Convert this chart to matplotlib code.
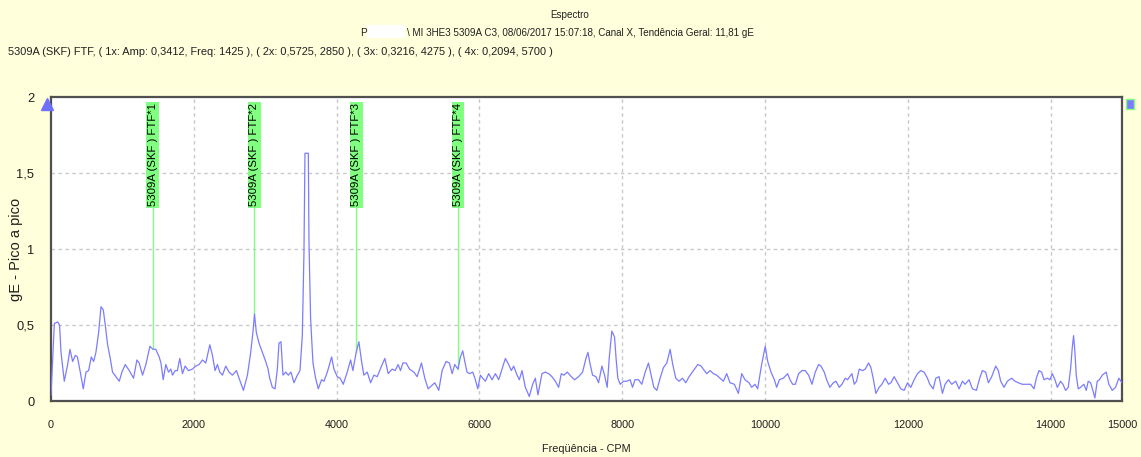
import matplotlib
matplotlib.use("Agg")
import matplotlib.pyplot as plt
from matplotlib.patches import Rectangle

plt.rcParams['font.family'] = ['Liberation Sans', 'DejaVu Sans']

# Envelope spectrum (CPM, gE peak-to-peak)
freq = [0, 47, 93, 120, 140, 186, 233, 266, 303, 340, 370, 410, 452, 490, 527, 564,
        597, 629, 667, 700, 732, 760, 793, 830, 862, 909, 956, 993, 1040, 1096, 1156,
        1203, 1235, 1282, 1329, 1385, 1425, 1468, 1515, 1540, 1571, 1608, 1646, 1678,
        1702, 1739, 1770, 1804, 1841, 1879, 1925, 1981, 2028, 2075, 2121, 2168, 2224,
        2261, 2298, 2331, 2364, 2401, 2448, 2494, 2541, 2597, 2634, 2695, 2751, 2797,
        2830, 2850, 2876, 2914, 2960, 3007, 3040, 3063, 3100, 3138, 3170, 3193, 3221,
        3249, 3287, 3324, 3361, 3403, 3450, 3487, 3520, 3543, 3557, 3604, 3613, 3636,
        3669, 3706, 3743, 3790, 3823, 3870, 3930, 3963, 4009, 4050, 4093, 4149, 4196,
        4228, 4275, 4312, 4350, 4382, 4429, 4476, 4522, 4569, 4629, 4676, 4722, 4778,
        4820, 4862, 4895, 4928, 4974, 5021, 5082, 5128, 5189, 5235, 5282, 5329, 5375,
        5431, 5478, 5534, 5580, 5618, 5655, 5700, 5734, 5767, 5795, 5827, 5860, 5907,
        5944, 5977, 6014, 6046, 6084, 6130, 6177, 6224, 6270, 6317, 6364, 6410, 6448,
        6480, 6527, 6559, 6597, 6643, 6699, 6746, 6783, 6820, 6876, 6923, 6970, 7016,
        7063, 7110, 7147, 7184, 7231, 7287, 7333, 7389, 7445, 7492, 7520, 7552, 7585,
        7632, 7669, 7716, 7753, 7790, 7818, 7855, 7893, 7916, 7939, 7972, 8019, 8065,
        8112, 8144, 8180, 8228, 8275, 8322, 8368, 8405, 8443, 8485, 8531, 8578, 8625,
        8671, 8708, 8750, 8797, 8844, 8890, 8937, 8998, 9058, 9105, 9151, 9184, 9231,
        9277, 9324, 9371, 9417, 9464, 9510, 9571, 9627, 9674, 9720, 9776, 9813, 9860,
        9897, 9953, 10003, 10038, 10084, 10131, 10163, 10201, 10257, 10317, 10350,
        10387, 10425, 10471, 10518, 10564, 10611, 10658, 10704, 10751, 10783, 10830,
        10863, 10909, 10956, 10993, 11040, 11077, 11124, 11157, 11217, 11250, 11282,
        11320, 11366, 11404, 11450, 11483, 11515, 11553, 11599, 11637, 11683, 11730,
        11763, 11809, 11856, 11902, 11949, 11996, 12042, 12089, 12135, 12182, 12229,
        12275, 12308, 12355, 12392, 12438, 12485, 12522, 12569, 12615, 12671, 12718,
        12765, 12802, 12858, 12905, 12961, 13007, 13044, 13091, 13128, 13175, 13231,
        13268, 13301, 13348, 13394, 13455, 13501, 13548, 13604, 13674, 13720, 13767,
        13800, 13837, 13874, 13907, 13954, 13990, 14024, 14061, 14094, 14140, 14173,
        14210, 14247, 14280, 14303, 14322, 14341, 14359, 14387, 14420, 14466, 14499,
        14527, 14560, 14592, 14620, 14653, 14685, 14723, 14779, 14816, 14863, 14909,
        14956, 15000]
amp = [0.04, 0.51, 0.52, 0.50, 0.32, 0.13, 0.24, 0.34, 0.26, 0.30, 0.29, 0.19, 0.08,
       0.19, 0.20, 0.29, 0.26, 0.32, 0.45, 0.62, 0.60, 0.50, 0.37, 0.28, 0.19, 0.16,
       0.13, 0.19, 0.24, 0.20, 0.15, 0.27, 0.25, 0.17, 0.24, 0.36, 0.3412, 0.34, 0.29,
       0.25, 0.14, 0.24, 0.19, 0.21, 0.17, 0.20, 0.20, 0.28, 0.18, 0.23, 0.20, 0.21,
       0.23, 0.24, 0.27, 0.25, 0.37, 0.30, 0.20, 0.24, 0.19, 0.17, 0.23, 0.19, 0.17,
       0.20, 0.15, 0.07, 0.17, 0.32, 0.46, 0.5725, 0.45, 0.38, 0.32, 0.26, 0.21, 0.15,
       0.09, 0.08, 0.21, 0.38, 0.39, 0.17, 0.19, 0.17, 0.19, 0.12, 0.17, 0.20, 0.43,
       0.98, 1.63, 1.63, 1.05, 0.54, 0.25, 0.15, 0.08, 0.14, 0.13, 0.19, 0.29, 0.21,
       0.16, 0.15, 0.11, 0.19, 0.27, 0.20, 0.3216, 0.39, 0.26, 0.17, 0.19, 0.12, 0.17,
       0.16, 0.23, 0.28, 0.18, 0.21, 0.20, 0.24, 0.20, 0.25, 0.25, 0.21, 0.19, 0.16,
       0.25, 0.15, 0.08, 0.10, 0.12, 0.07, 0.20, 0.26, 0.25, 0.18, 0.24, 0.2094, 0.29,
       0.33, 0.26, 0.19, 0.18, 0.19, 0.14, 0.08, 0.17, 0.15, 0.13, 0.18, 0.14, 0.18,
       0.14, 0.21, 0.28, 0.24, 0.20, 0.23, 0.17, 0.14, 0.20, 0.09, 0.03, 0.11, 0.15,
       0.04, 0.18, 0.19, 0.18, 0.16, 0.13, 0.09, 0.18, 0.17, 0.19, 0.16, 0.14, 0.16,
       0.19, 0.28, 0.32, 0.24, 0.17, 0.16, 0.12, 0.23, 0.17, 0.09, 0.28, 0.46, 0.42,
       0.27, 0.15, 0.11, 0.13, 0.13, 0.14, 0.09, 0.14, 0.14, 0.11, 0.19, 0.25, 0.17,
       0.09, 0.07, 0.15, 0.22, 0.25, 0.34, 0.24, 0.15, 0.13, 0.15, 0.12, 0.16, 0.20,
       0.24, 0.23, 0.20, 0.18, 0.20, 0.18, 0.17, 0.15, 0.13, 0.18, 0.12, 0.11, 0.05,
       0.18, 0.14, 0.12, 0.09, 0.11, 0.08, 0.24, 0.36, 0.26, 0.19, 0.14, 0.09, 0.14,
       0.15, 0.18, 0.14, 0.11, 0.11, 0.18, 0.20, 0.20, 0.17, 0.11, 0.19, 0.24, 0.23,
       0.19, 0.14, 0.09, 0.12, 0.13, 0.09, 0.11, 0.15, 0.14, 0.18, 0.11, 0.13, 0.21,
       0.20, 0.21, 0.25, 0.22, 0.15, 0.05, 0.09, 0.11, 0.15, 0.11, 0.12, 0.16, 0.12,
       0.08, 0.07, 0.12, 0.09, 0.14, 0.18, 0.20, 0.19, 0.15, 0.11, 0.08, 0.15, 0.16,
       0.05, 0.11, 0.14, 0.11, 0.13, 0.08, 0.13, 0.11, 0.14, 0.08, 0.07, 0.15, 0.20,
       0.19, 0.12, 0.16, 0.23, 0.20, 0.13, 0.09, 0.13, 0.15, 0.13, 0.12, 0.11, 0.11,
       0.11, 0.08, 0.15, 0.20, 0.19, 0.14, 0.15, 0.14, 0.18, 0.14, 0.09, 0.13, 0.11,
       0.07, 0.09, 0.21, 0.35, 0.43, 0.32, 0.17, 0.08, 0.09, 0.11, 0.07, 0.13, 0.12,
       0.07, 0.02, 0.13, 0.14, 0.17, 0.19, 0.11, 0.07, 0.09, 0.15, 0.12]

# FTF harmonic cursors
cursor_freq = [1425, 2850, 4275, 5700]
cursor_amp = [0.3412, 0.5725, 0.3216, 0.2094]
cursor_labels = ["5309A (SKF ) FTF*1", "5309A (SKF ) FTF*2",
                 "5309A (SKF ) FTF*3", "5309A (SKF ) FTF*4"]

xticks = [0, 2000, 4000, 6000, 8000, 10000, 12000, 14000, 15000]
yticks = [0, 0.5, 1, 1.5, 2]
ytick_labels = ["0", "0,5", "1", "1,5", "2"]

title = "Espectro"
subtitle_left = "P"
subtitle_right = "\\ MI 3HE3 5309A C3, 08/06/2017 15:07:18, Canal X, Tendência Geral: 11,81 gE"
info_line = ("5309A (SKF) FTF, ( 1x: Amp: 0,3412, Freq: 1425 ), ( 2x: 0,5725, 2850 ), "
             "( 3x: 0,3216, 4275 ), ( 4x: 0,2094, 5700 )")

W, H = 1141, 457
bg = '#FFFFDC'
fig = plt.figure(figsize=(W / 100, H / 100), dpi=100, facecolor=bg)
ax = fig.add_axes([51 / W, 1 - 401 / H, (1122 - 51) / W, (401 - 97) / H])
ax.set_facecolor('white')

ax.set_xlim(0, 15000)
ax.set_ylim(0, 2)

# grid
for gx in xticks[1:-1]:
    ax.axvline(gx, color='#C8C8C8', lw=1, ls=(0, (2.5, 2.5)), zorder=1)
for gy in yticks[1:-1]:
    ax.axhline(gy, color='#C8C8C8', lw=1, ls=(0, (2.5, 2.5)), zorder=1)

ax.plot(freq, amp, color='#7C7CFF', lw=0.9, zorder=3)

# cursors with tags
tag_base = 1.28
for cf, ca, lab in zip(cursor_freq, cursor_amp, cursor_labels):
    ax.plot([cf, cf], [ca, tag_base], color='#80FF80', lw=1, zorder=2)
    ax.text(cf, tag_base, lab, rotation=90, ha='center', va='bottom',
            fontsize=8.2, color='black', zorder=4,
            bbox=dict(boxstyle='square,pad=0.12', fc='#80FF80', ec='none'))

# reference markers
ax.plot([-4 / 1071], [1 - 7 / 304], marker='^', ms=8, color='#7070FF', mec='#7070FF',
        transform=ax.transAxes, clip_on=False, zorder=5)
ax.add_patch(Rectangle((1.0035, 0.96), 0.0075, 0.035, transform=ax.transAxes,
                       clip_on=False, fc='#7C7CFF', ec='#80FF80', lw=1, zorder=5))

for s in ax.spines.values():
    s.set_color('#505050')
    s.set_linewidth(1.6)

ax.set_xticks(xticks)
ax.set_xticklabels([str(t) for t in xticks])
ax.set_yticks(yticks)
ax.set_yticklabels(ytick_labels)
ax.tick_params(axis='both', length=0, colors='#202020')
ax.tick_params(axis='x', pad=14, labelsize=7.8)
ax.tick_params(axis='y', pad=12, labelsize=9.3)

ax.set_xlabel("Freqüência - CPM", fontsize=7.8, labelpad=10, color='#202020')
ax.set_ylabel("gE - Pico a pico", fontsize=10.5, color='#202020')
ax.yaxis.set_label_coords(-28 / 1071, 0.5)

# header
fig.text(570 / W, 1 - 15 / H, title, ha='center', va='center', fontsize=7.1, color='#202020')
fig.text(367 / W, 1 - 33 / H, subtitle_left, ha='right', va='center', fontsize=7.2, color='#202020')
fig.text(407 / W, 1 - 33 / H, subtitle_right, ha='left', va='center', fontsize=7.1, color='#202020')
fig.patches.append(Rectangle((367 / W, 1 - 38 / H), 38 / W, 13 / H, transform=fig.transFigure,
                             fc='white', ec='none'))
fig.text(8 / W, 1 - 52 / H, info_line, ha='left', va='center', fontsize=7.9, color='#202020')

fig.savefig("out.png", dpi=100, facecolor=bg)
